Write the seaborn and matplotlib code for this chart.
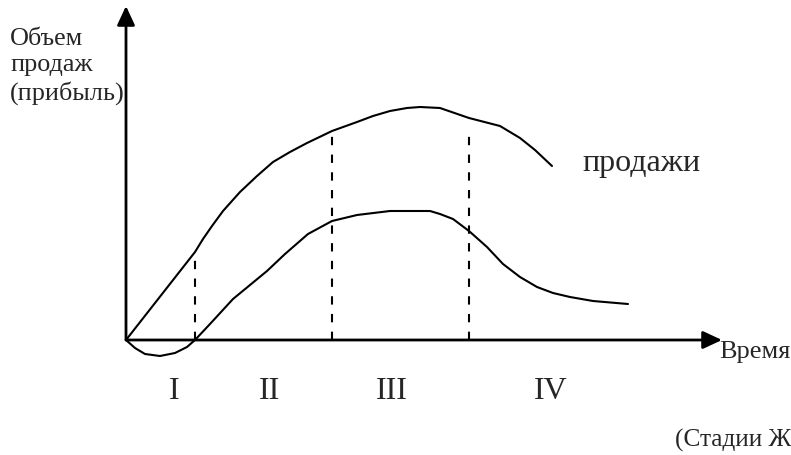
import numpy as np
import pandas as pd
import matplotlib
matplotlib.use("Agg")
import matplotlib.pyplot as plt
import seaborn as sns

# time (x) and volume (y) readings, origin where the two axes meet
sales_t = [0, 69, 77, 86, 97, 114, 131, 147, 164, 181, 206, 231, 247, 264, 281, 294, 314, 343, 374, 394, 409, 426]
sales_v = [0, 88, 101, 114, 129, 148, 164, 178, 188, 197, 209, 218, 224, 229, 232, 233, 232, 222, 214, 202, 190, 174]

profit_t = [0, 9, 19, 34, 49, 61, 69, 84, 107, 124, 141, 159, 182, 206, 231, 264, 291, 304, 314,
            327, 343, 361, 377, 394, 411, 427, 444, 467, 502]
profit_v = [0, -8, -14, -16, -13, -7, 0, 16, 41, 55, 69, 86, 106, 119, 125, 129, 129, 129, 126,
            121, 109, 93, 76, 63, 53, 47, 43, 39, 36]

# stage boundaries (dashed) and their heights
bound_t = [69, 206, 343]
bound_top = [88, 211, 211]

stages = ["I", "II", "III", "IV"]
stage_t = [48, 144, 266, 425]

sns.set_theme(style="white")
plt.rcParams['font.family'] = ['Liberation Serif', 'DejaVu Serif']

fig = plt.figure(figsize=(7.91, 4.56), dpi=100)
ax = fig.add_axes([0, 0, 1, 1])
ax.set_xlim(-126, 665)
ax.set_ylim(-115, 341)
ax.axis("off")

sales = pd.DataFrame({"t": sales_t, "v": sales_v})
profit = pd.DataFrame({"t": profit_t, "v": profit_v})
sns.lineplot(data=sales, x="t", y="v", sort=False, estimator=None, color="black", lw=1.5, ax=ax)
sns.lineplot(data=profit, x="t", y="v", sort=False, estimator=None, color="black", lw=1.5, ax=ax)

ax.vlines(bound_t, 0, bound_top, colors="black", lw=1.5, linestyles=(0, (4, 4.5)))

arrow = dict(arrowstyle="-|>,head_length=0.58,head_width=0.27", lw=2, color="black",
             mutation_scale=20, shrinkA=0, shrinkB=0)
ax.annotate("", xy=(596, 0), xytext=(0, 0), arrowprops=arrow)
ax.annotate("", xy=(0, 334), xytext=(0, 0), arrowprops=arrow)

ax.text(-116, 313, "Объем\nпродаж\n(прибыль)", fontsize=18.8, va="top", ha="left", linespacing=1.25)
ax.text(593, -17, "Время", fontsize=19, va="baseline", ha="left")
ax.text(456, 170, "продажи", fontsize=23, va="baseline", ha="left")
for s, t in zip(stages, stage_t):
    ax.text(t, -58, s, fontsize=23, va="baseline", ha="center")
ax.text(549, -106, "(Стадии Ж", fontsize=18.3, va="baseline", ha="left")

fig.savefig("out.png", dpi=100)
